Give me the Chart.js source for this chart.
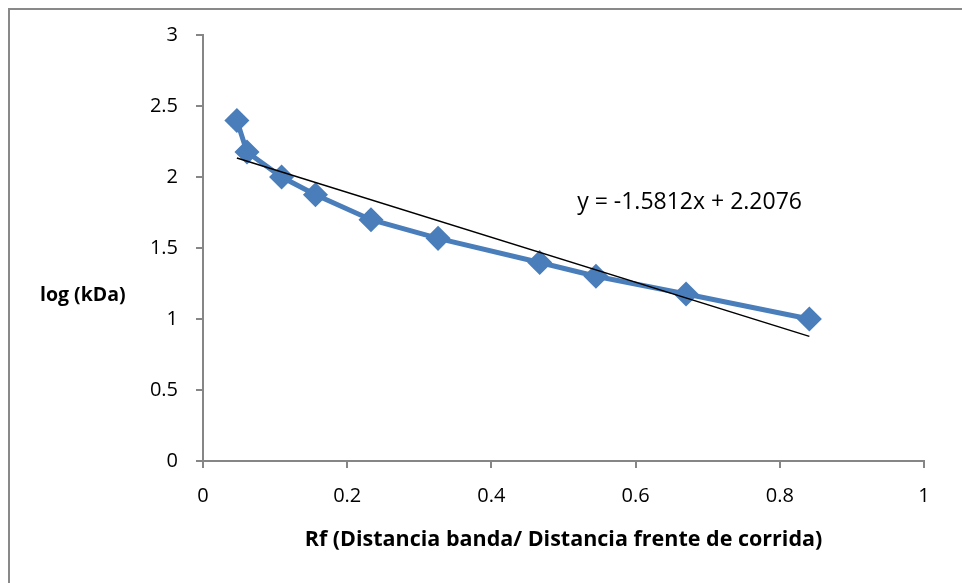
<!DOCTYPE html>
<html>
<head>
<meta charset="utf-8">
<script src="https://cdn.jsdelivr.net/npm/chart.js@4"></script>
<style>
    html, body { margin: 0; padding: 0; background: #fff; }
    #wrap { position: relative; width: 962px; height: 583px; }
    #frame { position: absolute; left: 8px; top: 8px; right: 0; bottom: 0; border-top: 2px solid #898989; border-left: 2px solid #898989; }
    canvas { position: absolute; left: 0; top: 0; }
</style>
</head>
<body>
<div id="wrap">
    <div id="frame"></div>
    <canvas id="rfChart" width="962" height="583"></canvas>
</div>
<script>
// Rf de cada banda del marcador y log del peso molecular
const rf = [0.047, 0.061, 0.109, 0.156, 0.233, 0.326, 0.467, 0.545, 0.670, 0.841];
const logKda = [2.398, 2.176, 2.000, 1.875, 1.699, 1.568, 1.398, 1.301, 1.176, 1.000];
const xTicks = [0, 0.2, 0.4, 0.6, 0.8, 1];
const yTicks = [0, 0.5, 1, 1.5, 2, 2.5, 3];

// linea de tendencia (Excel)
const slope = -1.5812;
const intercept = 2.2076;
const trendX = [0.047, 0.841];
const ecuacion = 'y = -1.5812x + 2.2076';

const fuente = "'Open Sans', sans-serif";

const puntos = rf.map((x, i) => ({ x: x, y: logKda[i] }));
const tendencia = trendX.map(x => ({ x: x, y: slope * x + intercept }));

const textos = {
    id: 'textos',
    afterDraw(chart) {
        const ctx = chart.ctx;
        const xs = chart.scales.x;
        const ys = chart.scales.y;
        ctx.save();
        ctx.fillStyle = '#000';
        ctx.textBaseline = 'middle';
        ctx.font = "bold 19.5px " + fuente;
        ctx.textAlign = 'left';
        ctx.fillText('log (kDa)', 40, 295);
        ctx.font = "23px " + fuente;
        ctx.fillText(ecuacion, xs.getPixelForValue(0.519), ys.getPixelForValue(1.82));
        ctx.restore();
    }
};

const config = {
    type: 'scatter',
    data: {
        datasets: [
            {
                label: 'log (kDa)',
                data: puntos,
                showLine: true,
                borderColor: '#4A7EBB',
                backgroundColor: '#4A7EBB',
                borderWidth: 5,
                pointStyle: 'rectRot',
                pointRadius: 9,
                pointHoverRadius: 9,
                order: 2
            },
            {
                label: 'Lineal',
                data: tendencia,
                showLine: true,
                borderColor: '#000',
                borderWidth: 1.5,
                pointRadius: 0,
                order: 1
            }
        ]
    },
    options: {
        responsive: false,
        animation: false,
        layout: {
            padding: { top: 35, right: 38, left: 0, bottom: 0 }
        },
        plugins: {
            legend: { display: false },
            tooltip: { enabled: false }
        },
        scales: {
            x: {
                type: 'linear',
                min: 0,
                max: 1,
                afterBuildTicks: s => { s.ticks = xTicks.map(v => ({ value: v })); },
                afterFit: s => { s.height = 122; },
                border: { color: '#868686', width: 2 },
                grid: { drawOnChartArea: false, tickLength: 7, tickColor: '#868686', lineWidth: 2 },
                ticks: {
                    color: '#000',
                    padding: 16,
                    font: { family: fuente, size: 20 },
                    maxRotation: 0,
                    callback: v => String(v)
                },
                title: {
                    display: true,
                    text: 'Rf (Distancia banda/ Distancia frente de corrida)',
                    color: '#000',
                    font: { family: fuente, size: 21.5, weight: 'bold' },
                    padding: { top: 0, bottom: 30 }
                }
            },
            y: {
                type: 'linear',
                min: 0,
                max: 3,
                afterBuildTicks: s => { s.ticks = yTicks.map(v => ({ value: v })); },
                afterFit: s => { s.width = 203; },
                border: { color: '#868686', width: 2 },
                grid: { drawOnChartArea: false, tickLength: 7, tickColor: '#868686', lineWidth: 2 },
                ticks: {
                    color: '#000',
                    padding: 18,
                    font: { family: fuente, size: 20 },
                    callback: v => String(v)
                }
            }
        }
    },
    plugins: [textos]
};

const ctx = document.getElementById('rfChart').getContext('2d');
new Chart(ctx, config);
</script>
</body>
</html>
